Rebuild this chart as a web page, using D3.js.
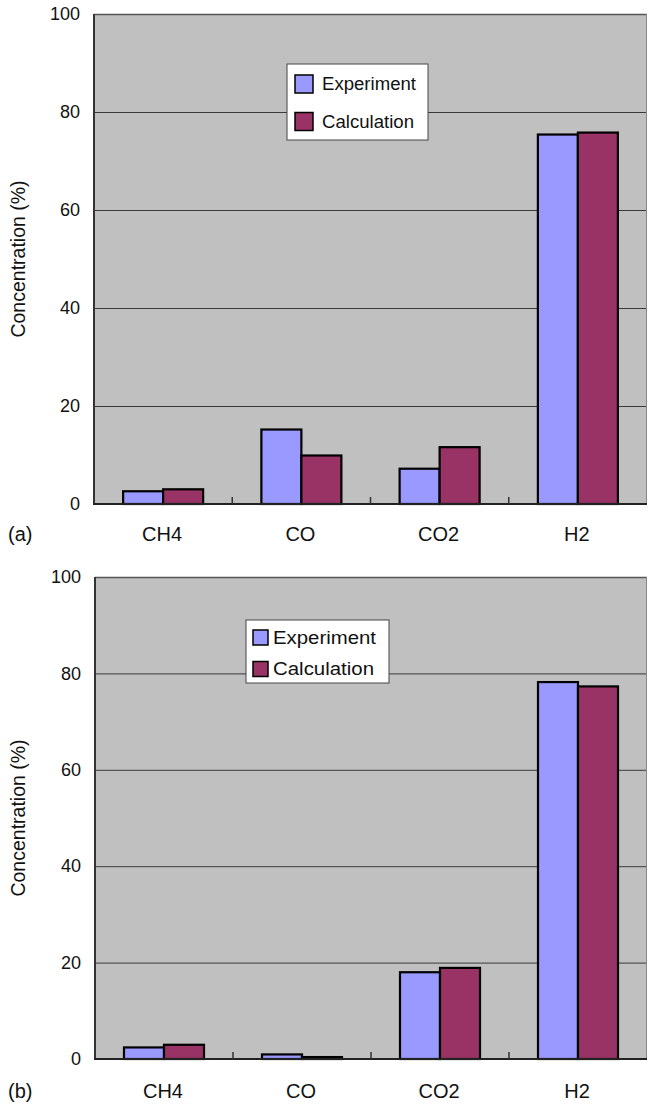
<!DOCTYPE html>
<html>
<head>
<meta charset="utf-8">
<script src="https://cdn.jsdelivr.net/npm/d3@7"></script>
<style>
  html, body { margin: 0; padding: 0; background: #fff; }
  svg { display: block; font-family: "Liberation Sans", Arial, Helvetica, sans-serif; }
</style>
</head>
<body>
<svg id="chart" width="648" height="1104"></svg>
<script>
const categories = ["CH4", "CO", "CO2", "H2"];
const seriesNames = ["Experiment", "Calculation"];
const experimentA = [2.6, 15.2, 7.2, 75.4];
const calculationA = [3.0, 9.9, 11.6, 75.8];
const experimentB = [2.4, 0.95, 18.0, 78.2];
const calculationB = [2.95, 0.4, 18.9, 77.3];
const yTicks = [0, 20, 40, 60, 80, 100];
const panelLabels = ["(a)", "(b)"];
const yTitle = "Concentration (%)";

const colors = { "Experiment": "#9999ff", "Calculation": "#993366" };

const svg = d3.select("#chart");

function drawPanel(opt) {
  const { left, right, top, bottom, exp, calc, label, legend, catY, legendFont, legendTextLen } = opt;
  const g = svg.append("g");
  const x0 = d3.scaleBand().domain(categories).range([left, right]).padding(0);
  const bw = x0.bandwidth();
  const groupW = 80;
  const x1 = d3.scaleBand().domain(seriesNames).range([(bw - groupW) / 2, (bw + groupW) / 2]).padding(0);
  const y = d3.scaleLinear().domain([0, 100]).range([bottom, top]);

  // background
  g.append("rect").attr("x", left).attr("y", top).attr("width", right - left).attr("height", bottom - top)
    .attr("fill", "#c0c0c0");

  // grid lines
  g.append("g").attr("transform", `translate(${left},0)`)
    .call(d3.axisLeft(y).tickValues(yTicks.filter(v => v > 0 && v < 100)).tickSize(-(right - left)).tickFormat(""))
    .call(s => s.select(".domain").remove())
    .call(s => s.selectAll("line").attr("stroke", "#3a3a3a").attr("stroke-width", 1));

  // border top/right/left
  g.append("line").attr("x1", left).attr("x2", right).attr("y1", top + 0.5).attr("y2", top + 0.5)
    .attr("stroke", "#555").attr("stroke-width", 1.5);
  g.append("line").attr("x1", right - 0.5).attr("x2", right - 0.5).attr("y1", top).attr("y2", bottom)
    .attr("stroke", "#888").attr("stroke-width", 1);
  g.append("line").attr("x1", left).attr("x2", left).attr("y1", top).attr("y2", bottom)
    .attr("stroke", "#333").attr("stroke-width", 2);

  // y tick labels
  g.append("g").attr("transform", `translate(${left},0)`)
    .call(d3.axisLeft(y).tickValues(yTicks).tickSize(0).tickPadding(14))
    .call(s => s.select(".domain").remove())
    .call(s => s.selectAll("text").attr("font-size", 18).attr("fill", "#111")
      .attr("font-family", "Liberation Sans, Arial, sans-serif"));

  // bars
  const rows = categories.map((c, i) => ({ cat: c, vals: [
    { s: "Experiment", v: exp[i] }, { s: "Calculation", v: calc[i] }] }));
  const grp = g.append("g").selectAll("g").data(rows).join("g")
    .attr("transform", d => `translate(${x0(d.cat)},0)`);
  grp.selectAll("rect").data(d => d.vals).join("rect")
    .attr("x", d => x1(d.s))
    .attr("width", x1.bandwidth())
    .attr("y", d => y(d.v))
    .attr("height", d => y(0) - y(d.v))
    .attr("fill", d => colors[d.s])
    .attr("stroke", "#000").attr("stroke-width", 2.2);

  // x axis line
  g.append("line").attr("x1", left - 1).attr("x2", right).attr("y1", bottom).attr("y2", bottom)
    .attr("stroke", "#222").attr("stroke-width", 2);
  // category boundary ticks (inside)
  g.append("g").selectAll("line").data(categories.slice(1)).join("line")
    .attr("x1", d => x0(d)).attr("x2", d => x0(d))
    .attr("y1", bottom).attr("y2", bottom - 7)
    .attr("stroke", "#333").attr("stroke-width", 1.5);

  // category labels
  g.append("g").selectAll("text").data(categories).join("text")
    .attr("x", d => x0(d) + bw / 2 - 1)
    .attr("y", catY)
    .attr("text-anchor", "middle")
    .attr("font-size", 20)
    .attr("fill", "#111")
    .text(d => d);

  // panel label
  g.append("text").attr("x", 8).attr("y", catY).attr("font-size", 20).attr("fill", "#111").text(label);

  // y title
  g.append("text")
    .attr("transform", `translate(${25},${(top + bottom) / 2}) rotate(-90)`)
    .attr("text-anchor", "middle")
    .attr("font-size", 19.5)
    .attr("fill", "#111")
    .text(yTitle);

  // legend
  const lg = g.append("g");
  lg.append("rect").attr("x", legend.x).attr("y", legend.y).attr("width", legend.w).attr("height", legend.h)
    .attr("fill", "#fff").attr("stroke", "#444").attr("stroke-width", 1);
  const items = lg.selectAll("g").data(seriesNames).join("g");
  items.append("rect")
    .attr("x", legend.x + legend.sx)
    .attr("y", (d, i) => legend.y + legend.sy + i * legend.step)
    .attr("width", legend.ss).attr("height", legend.ss)
    .attr("fill", d => colors[d]).attr("stroke", "#000").attr("stroke-width", 1.5);
  items.append("text")
    .attr("x", legend.x + legend.tx)
    .attr("y", (d, i) => legend.y + legend.sy + legend.ss / 2 + i * legend.step)
    .attr("dominant-baseline", "central")
    .attr("font-size", legendFont)
    .attr("fill", "#111")
    .attr("textLength", (d, i) => legendTextLen[i])
    .attr("lengthAdjust", "spacingAndGlyphs")
    .text(d => d);
}

drawPanel({
  left: 94, right: 647, top: 14, bottom: 504,
  exp: experimentA, calc: calculationA, label: panelLabels[0], catY: 541,
  legendFont: 17.5, legendTextLen: [94, 92],
  legend: { x: 287, y: 64, w: 141, h: 76, sx: 8, sy: 11, ss: 18, step: 37.5, tx: 35 }
});

drawPanel({
  left: 95, right: 647, top: 577, bottom: 1059,
  exp: experimentB, calc: calculationB, label: panelLabels[1], catY: 1098,
  legendFont: 17.5, legendTextLen: [103, 101],
  legend: { x: 246, y: 620, w: 143, h: 63, sx: 7, sy: 10, ss: 15, step: 31.5, tx: 27 }
});
</script>
</body>
</html>
